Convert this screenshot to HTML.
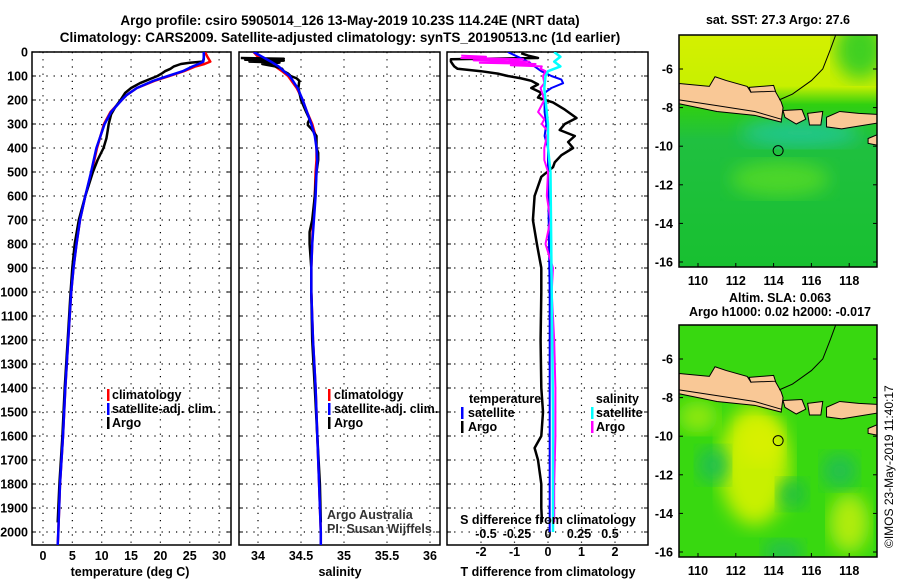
<!DOCTYPE html>
<html><head><meta charset="utf-8"><style>
body{margin:0;background:#fff;}
svg{display:block;font-family:"Liberation Sans",sans-serif;}
.b{font-weight:bold;font-size:12.5px;}
.t{font-weight:bold;font-size:13.5px;}
</style></head><body>
<svg id="c" width="900" height="580" viewBox="0 0 900 580">
<defs>
<clipPath id="cp1"><rect x="32" y="52" width="199" height="493"/></clipPath>
<clipPath id="cp2"><rect x="239" y="52" width="201" height="493"/></clipPath>
<clipPath id="cp3"><rect x="447" y="52" width="201" height="493"/></clipPath>
<clipPath id="m1"><rect x="679" y="35" width="198" height="232"/></clipPath>
<clipPath id="m2"><rect x="679" y="325" width="198" height="232"/></clipPath>
<linearGradient id="g1" x1="0" y1="0" x2="0" y2="1">
<stop offset="0" stop-color="#d4f000"/><stop offset="0.22" stop-color="#c8f000"/><stop offset="0.3" stop-color="#30d010"/><stop offset="0.45" stop-color="#20c040"/><stop offset="1" stop-color="#18c030"/></linearGradient>
<filter id="bl"><feGaussianBlur stdDeviation="9"/></filter>
</defs>
<text x="350" y="25" text-anchor="middle" class="t">Argo profile: csiro 5905014_126 13-May-2019 10.23S 114.24E (NRT data)</text>
<text x="340" y="42" text-anchor="middle" class="t">Climatology: CARS2009. Satellite-adjusted climatology: synTS_20190513.nc (1d earlier)</text>
<g id="plots"></g>
<g id="maps"></g>
<text x="778" y="24" text-anchor="middle" class="b">sat. SST: 27.3 Argo: 27.6</text>
<text x="780" y="302" text-anchor="middle" class="b">Altim. SLA: 0.063</text>
<text x="780" y="316" text-anchor="middle" class="b">Argo h1000: 0.02 h2000: -0.017</text>
<text transform="translate(893,548) rotate(-90)" font-size="12">©IMOS 23-May-2019 11:40:17</text>
</svg>
<script>
// ---- data ----
const depthTicks=[0,100,200,300,400,500,600,700,800,900,1000,1100,1200,1300,1400,1500,1600,1700,1800,1900,2000];
const tempTicks=[0,5,10,15,20,25,30];
const salTicks=[34,34.5,35,35.5,36];
const salTickLabels=["34","34.5","35","35.5","36"];
const tdTicks=[-2,-1,0,1,2];
const sdTicks=[-0.5,-0.25,0,0.25,0.5];
const sdTickLabels=["-0.5","-0.25","0","0.25","0.5"];

const tempDepth=[0,20,40,50,60,80,100,120,150,180,200,250,300,350,400,500,600,700,800,900,1000,1200,1400,1600,1800,2000,2055];
const tempClim=[27.6,28,28.5,27.5,26,24,21.5,19,16,14.2,13.4,11.5,10.4,9.8,9.2,8.3,7.2,6.3,5.7,5.2,4.8,4.3,3.8,3.4,2.9,2.6,2.5];
const tempSat=[27.4,27.4,27.3,26.5,25.5,23.8,21.3,18.8,16,14.2,13.4,11.6,10.5,9.8,9.1,8.2,7.2,6.3,5.7,5.2,4.8,4.3,3.8,3.4,2.9,2.6,2.5];
const argoTDepth=[0,30,40,45,50,60,70,80,90,100,110,130,150,170,200,230,260,300,330,360,400,450,500,600,700,800,900,1000,1200,1400,1600,1800,1960];
const argoT=[27.4,27.4,27.2,25,23.5,22.3,21.7,20.8,20.2,19.5,18.5,16.5,15,14,13.2,12.3,11.6,11.2,11.0,10.8,10.3,9.3,8.5,7.2,6.1,5.4,5.0,4.7,4.2,3.7,3.3,2.8,2.5];

const salDepth=[0,20,40,60,80,100,150,200,250,300,350,400,450,500,600,700,800,900,1000,1200,1400,1600,1800,2000,2055];
const salClim=[33.95,34.0,34.1,34.2,34.28,34.35,34.45,34.52,34.57,34.63,34.67,34.68,34.68,34.67,34.66,34.64,34.63,34.62,34.62,34.64,34.67,34.69,34.71,34.73,34.73];
const salSat=[33.95,34.05,34.15,34.24,34.3,34.37,34.46,34.52,34.57,34.62,34.66,34.68,34.69,34.68,34.67,34.65,34.63,34.62,34.62,34.64,34.67,34.69,34.71,34.73,34.73];
const argoSDepth=[25,28,32,36,40,44,50,60,70,80,90,100,110,120,150,200,250,280,295,305,320,350,400,420,450,500,600,700,750,800,900,1000,1200,1400,1600,1800,1960];
const argoS=[33.8,34.3,33.85,34.3,33.9,34.25,34.05,34.2,34.28,34.3,34.35,34.38,34.45,34.48,34.47,34.5,34.56,34.6,34.58,34.58,34.62,34.68,34.68,34.7,34.7,34.68,34.66,34.63,34.6,34.6,34.62,34.62,34.63,34.66,34.69,34.72,34.73];

const tdArgoDepth=[5,15,25,30,40,50,60,70,80,90,100,110,120,135,150,170,190,210,240,275,300,325,350,375,400,430,460,480,520,600,700,800,900,1000,1200,1400,1500,1600,1650,1700,1800,1900,1960];
const tdArgo=[-0.8,-0.6,-0.3,-2.9,-2.9,-2.85,-2.8,-2.7,-2.0,-1.5,-1.2,-0.8,-0.5,-0.3,-0.5,-0.2,-0.3,0.15,0.5,0.85,0.5,0.35,0.8,0.6,0.75,0.4,0.2,0.15,-0.2,-0.4,-0.45,-0.33,-0.2,-0.2,-0.22,-0.2,-0.15,-0.2,-0.4,-0.3,-0.2,-0.2,-0.18];
const tdSatDepth=[0,20,40,60,80,100,115,130,150,170,200,250,300,350,400,500,1000,1500,2000];
const tdSat=[-1.2,-0.9,-0.6,-0.4,-0.2,0.1,0.4,0.45,0.1,-0.1,-0.1,-0.1,-0.05,-0.1,0,0,0.05,0.05,0.05];
const sdSatDepth=[0,20,40,60,80,100,150,200,300,400,500,1000,1500,2000];
const sdSat=[0.05,0.1,0.05,0.1,0.0,-0.02,-0.03,-0.02,0.0,0.0,0.02,0.03,0.04,0.04];
const sdArgoDepth=[15,20,25,30,35,40,45,50,55,60,70,80,100,130,150,200,250,280,300,330,400,450,500,600,700,800,900,1000,1200,1400,1600,1800,1960];
const sdArgo=[-0.7,-0.5,-0.7,-0.2,-0.6,-0.15,-0.55,-0.1,-0.3,-0.05,-0.06,-0.02,-0.04,-0.03,-0.06,-0.03,-0.08,-0.03,-0.05,0.0,-0.03,-0.03,0.0,-0.01,0.02,-0.02,0.04,0.03,0.05,0.06,0.06,0.05,0.05];

const argoLon=114.24, argoLat=-10.23;
const lonTicks=[110,112,114,116,118];
const latTicks=[-6,-8,-10,-12,-14,-16];

// ---- axes ----
const NS="http://www.w3.org/2000/svg";
const yD=d=>52+d*0.24;
const xT=v=>43+v*5.87;
const xS=v=>258+(v-34)*86;
const xTD=v=>548+v*33.5;
const xSD=v=>548+v*124;
function mk(tag,attrs,parent){const e=document.createElementNS(NS,tag);for(const k in attrs)e.setAttribute(k,attrs[k]);parent.appendChild(e);return e;}
const G=document.getElementById('plots');
const panels=[{x0:32,x1:231,clip:'cp1'},{x0:239,x1:440,clip:'cp2'},{x0:447,x1:648,clip:'cp3'}];

panels.forEach((p,i)=>{
  const g=mk('g',{},G);
  
  
  depthTicks.forEach(d=>{
    const l=mk('line',{x1:p.x0,x2:p.x1,y1:yD(d),y2:yD(d),stroke:'#000','stroke-width':1.2,'stroke-dasharray':'1.2 6'},g);
    
    
    mk('line',{x1:p.x0,x2:p.x0+4,y1:yD(d),y2:yD(d),stroke:'#000'},g);
    mk('line',{x1:p.x1-4,x2:p.x1,y1:yD(d),y2:yD(d),stroke:'#000'},g);
  });
  const r=mk('rect',{x:p.x0,y:52,width:p.x1-p.x0,height:493,fill:'none',stroke:'#000','stroke-width':1.5},g);
  
  
});
depthTicks.forEach(d=>{
  const t=mk('text',{x:28,y:yD(d)+4.5,'text-anchor':'end',class:'b'},G);
  t.textContent=d;
  
  
});
function vgrid(vals,f,fmt,p,ylab){
  vals.forEach((v,k)=>{
    const x=f(v);
    const l=mk('line',{x1:x,x2:x,y1:52,y2:545,stroke:'#000','stroke-width':1.2,'stroke-dasharray':'1.2 6'},G);
    
    
    if(ylab){const t=mk('text',{x:x,y:ylab,'text-anchor':'middle',class:'b'},G);t.textContent=fmt?fmt[k]:v;
    
    }
  });
}
vgrid(tempTicks,xT,null,0,560);
vgrid(salTicks,xS,salTickLabels,1,560);
vgrid(tdTicks,xTD,null,2,556);
sdTicks.forEach((v,k)=>{const t=mk('text',{x:xSD(v),y:538,'text-anchor':'middle',class:'b'},G);t.textContent=sdTickLabels[k];

});

function line(dep,val,fx,color,clip,name,w){
  const pts=dep.map((d,i)=>fx(val[i]).toFixed(1)+','+yD(d).toFixed(1)).join(' ');
  const e=mk('polyline',{points:pts,fill:'none',stroke:color,'stroke-width':w||2.5,'clip-path':'url(#'+clip+')','stroke-linejoin':'round'},G);
  
  
}
line(tempDepth,tempClim,xT,'#f00','cp1','temp-climatology-line');
line(argoTDepth,argoT,xT,'#000','cp1','temp-argo-line');
line(tempDepth,tempSat,xT,'#00f','cp1','temp-satellite-line');
line(salDepth,salClim,xS,'#f00','cp2','sal-climatology-line');
line(argoSDepth,argoS,xS,'#000','cp2','sal-argo-line');
line(salDepth,salSat,xS,'#00f','cp2','sal-satellite-line');
line(tdArgoDepth,tdArgo,xTD,'#000','cp3','tdiff-argo-line');
line(tdSatDepth,tdSat,xTD,'#00f','cp3','tdiff-satellite-line',2);
line(sdArgoDepth,sdArgo,xSD,'#f0f','cp3','sdiff-argo-line',2);
line(sdSatDepth,sdSat,xSD,'#0ff','cp3','sdiff-satellite-line',2.5);

function txt(x,y,s,name,cls,anchor,extra){const t=mk('text',Object.assign({x:x,y:y,class:cls||'b','text-anchor':anchor||'start'},extra||{}),G);t.textContent=s;

return t;}
function mark(x,y,c){mk('rect',{x:x,y:y-10,width:2.5,height:12,fill:c},G);}
[[398,'#f00','climatology'],[412,'#00f','satellite-adj. clim.'],[426,'#000','Argo']].forEach(a=>{
  mark(107,a[0]+1,a[1]);txt(112,a[0]+1,a[2],'legend-temp-'+a[2].split(' ')[0].replace('.',''));
  mark(328,a[0]+1,a[1]);txt(334,a[0]+1,a[2],'legend-sal-'+a[2].split(' ')[0].replace('.',''));
});
txt(469,403,'temperature','legend-tdiff-header');
mark(461,417,'#00f');txt(468,417,'satellite','legend-tdiff-satellite');
mark(461,431,'#000');txt(468,431,'Argo','legend-tdiff-argo');
txt(639,403,'salinity','legend-sdiff-header','b','end');
mark(591,417,'#0ff');txt(596,417,'satellite','legend-sdiff-satellite');
mark(591,431,'#f0f');txt(596,431,'Argo','legend-sdiff-argo');
txt(327,519,'Argo Australia','credit-argo-australia','', 'start',{'font-size':12,fill:'#333'});
txt(327,533,'PI: Susan Wijffels','credit-pi','', 'start',{'font-size':12,fill:'#333'});
txt(548,524,'S difference from climatology','sdiff-axis-title','b','middle');
txt(130,576,'temperature (deg C)','temp-axis-title','b','middle');
txt(340,576,'salinity','sal-axis-title','b','middle');
txt(548,576,'T difference from climatology','tdiff-axis-title','b','middle');

// ---- maps ----
const M=document.getElementById('maps');
const java=[[109,-6.75],[110.6,-6.9],[110.9,-6.4],[111.5,-6.6],[112.6,-6.9],[112.8,-7.2],[114,-7.0],[114.4,-7.7],[114.5,-8.0],[114.4,-8.75],[113,-8.4],[111,-8.2],[109,-7.8]];
const madura=[[112.7,-6.95],[114,-6.85],[114.1,-7.15],[112.8,-7.2]];
const bali=[[114.5,-8.15],[115.5,-8.1],[115.7,-8.6],[115.2,-8.85],[114.6,-8.5]];
const lombok=[[115.8,-8.3],[116.6,-8.2],[116.5,-8.9],[115.9,-8.9]];
const sumbawa=[[116.8,-8.5],[117.5,-8.2],[118.5,-8.3],[119.5,-8.35],[119.5,-8.8],[117.6,-9.1],[116.8,-9.0]];
const sumba=[[119,-9.6],[119.5,-9.4],[119.5,-9.95],[119,-9.85]];
const coast=[[117.3,-4.2],[117.0,-5.0],[116.6,-6.0],[116.0,-6.6],[115.0,-7.3],[114.3,-7.6]];
function drawMap(top,clip,id,isSst){
  const mx=lon=>698+(lon-110)*18.9;
  const my=lat=>top+34+(-6-lat)*19.3;
  const g=mk('g',{'clip-path':'url(#'+clip+')'},M);
  
  
  if(isSst){
    mk('rect',{x:679,y:top,width:198,height:232,fill:'url(#g1)'},g);
    mk('ellipse',{cx:800,cy:my(-9.3),rx:60,ry:14,fill:'#20c8a0',filter:'url(#bl)',opacity:0.8},g);
    mk('ellipse',{cx:780,cy:my(-11.7),rx:50,ry:18,fill:'#60e020',filter:'url(#bl)',opacity:0.7},g);
    mk('ellipse',{cx:860,cy:my(-5),rx:25,ry:30,fill:'#40d020',filter:'url(#bl)'},g);
  } else {
    mk('rect',{x:679,y:top,width:198,height:232,fill:'#38d810'},g);
    [[113,-11.5,35,60,'#c8f000'],[113.3,-10.3,22,22,'#d8f000'],[118,-14.5,20,30,'#b0ec10'],[110,-9,20,16,'#90e810'],[117.5,-11.8,18,18,'#20c050'],[110.8,-11.5,16,18,'#20c050'],[115,-13,15,15,'#20c040'],[114.5,-16,20,12,'#20c050']].forEach(b=>{
      mk('ellipse',{cx:mx(b[0]),cy:my(b[1]),rx:b[2],ry:b[3],fill:b[4],filter:'url(#bl)'},g);});
  }
  [java,madura,bali,lombok,sumbawa,sumba].forEach(poly=>{
    const e=mk('polygon',{points:poly.map(q=>mx(q[0])+','+my(q[1])).join(' '),fill:'#f9c896',stroke:'#000','stroke-width':1},g);
    
    
  });
  mk('polyline',{points:coast.map(q=>mx(q[0])+','+my(q[1])).join(' '),fill:'none',stroke:'#000','stroke-width':1},g);
  mk('polyline',{points:[[109,-7.6],[111,-7.9],[113,-8.2],[114.4,-8.6]].map(q=>mx(q[0])+','+my(q[1])).join(' '),fill:'none',stroke:'#000','stroke-width':1},g);
  const c=mk('circle',{cx:mx(argoLon),cy:my(argoLat),r:5,fill:'none',stroke:'#000','stroke-width':1},g);
  
  
  const fr=mk('rect',{x:679,y:top,width:198,height:232,fill:'none',stroke:'#000','stroke-width':1.5},M);
  
  
  lonTicks.forEach(l=>{
    mk('line',{x1:mx(l),x2:mx(l),y1:top+232,y2:top+228,stroke:'#000'},M);
    const t=mk('text',{x:mx(l),y:top+250,'text-anchor':'middle',class:'b'},M);t.textContent=l;
    
    
  });
  latTicks.forEach(l=>{
    mk('line',{x1:679,x2:683,y1:my(l),y2:my(l),stroke:'#000'},M);
    mk('line',{x1:873,x2:877,y1:my(l),y2:my(l),stroke:'#000'},M);
    const t=mk('text',{x:673,y:my(l)+4.5,'text-anchor':'end',class:'b'},M);t.textContent=l;
    
    
  });
}
drawMap(35,'m1','sst-map',true);
drawMap(325,'m2','sla-map',false);
</script>
</body></html>
